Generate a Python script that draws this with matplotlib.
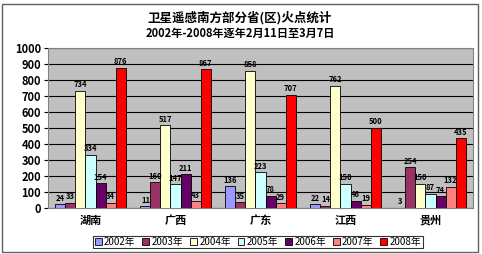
import numpy as np
import matplotlib
matplotlib.use("Agg")
import matplotlib.pyplot as plt

plt.rcParams['font.family'] = ['Noto Sans CJK SC', 'DejaVu Sans']

provinces = ['湖南', '广西', '广东', '江西', '贵州']
years = ['2002年', '2003年', '2004年', '2005年', '2006年', '2007年', '2008年']
v2002 = [24, 11, 136, 22, 3]
v2003 = [33, 160, 35, 14, 254]
v2004 = [734, 517, 858, 762, 150]
v2005 = [334, 147, 223, 150, 87]
v2006 = [154, 211, 78, 46, 74]
v2007 = [34, 43, 29, 19, 132]
v2008 = [876, 867, 707, 500, 435]
series = [v2002, v2003, v2004, v2005, v2006, v2007, v2008]
colors = ['#9999FF', '#993366', '#FFFFCC', '#CCFFFF', '#660066', '#FF8080', '#FF0000']

fig = plt.figure(figsize=(4.82, 2.54), dpi=100)
ax = fig.add_axes([48 / 482, 1 - 208 / 254, (473 - 48) / 482, (208 - 48) / 254])
ax.set_facecolor('#C0C0C0')

x = np.arange(len(provinces))
w = 0.118
for i, (vals, c) in enumerate(zip(series, colors)):
    pos = x + (i - 3) * w
    ax.bar(pos, vals, w, color=c, edgecolor='black', linewidth=0.6,
           label=years[i], zorder=3)
    for p, v in zip(pos, vals):
        ax.text(p, v + 10, str(v), ha='center', va='bottom', fontsize=5.5,
                fontweight='bold', zorder=4)

ax.set_xlim(-0.5, 4.5)
ax.set_ylim(0, 1000)
ax.set_yticks(range(0, 1001, 100))
ax.yaxis.grid(True, color='black', linewidth=0.8, zorder=0)
ax.set_xticks(x)
ax.set_xticklabels(provinces, fontsize=8, fontweight='bold')
ax.tick_params(axis='y', labelsize=8, length=3, pad=2)
ax.tick_params(axis='x', length=0, pad=4)
for lab in ax.get_yticklabels():
    lab.set_fontweight('bold')
for s in ax.spines.values():
    s.set_color('#808080')

fig.text(240 / 482, 1 - 18 / 254, '卫星遥感南方部分省(区)火点统计', ha='center', va='center',
         fontsize=9, fontweight='bold')
fig.text(240 / 482, 1 - 33 / 254, '2002年-2008年逐年2月11日至3月7日', ha='center', va='center',
         fontsize=8, fontweight='bold')

leg = fig.legend(loc='center', bbox_to_anchor=(258 / 482, 1 - 242 / 254), ncol=7,
                 fontsize=7, frameon=True, fancybox=False, edgecolor='black',
                 handlelength=0.7, handleheight=0.7, handletextpad=0.25,
                 columnspacing=0.7, borderpad=0.15)
leg.get_frame().set_linewidth(0.8)

fig.patches.append(plt.Rectangle((2 / 482, 2 / 254), 476 / 482, 248 / 254,
                                 transform=fig.transFigure, fill=False,
                                 edgecolor='#606060', linewidth=1))

fig.savefig('out.png', dpi=100)
